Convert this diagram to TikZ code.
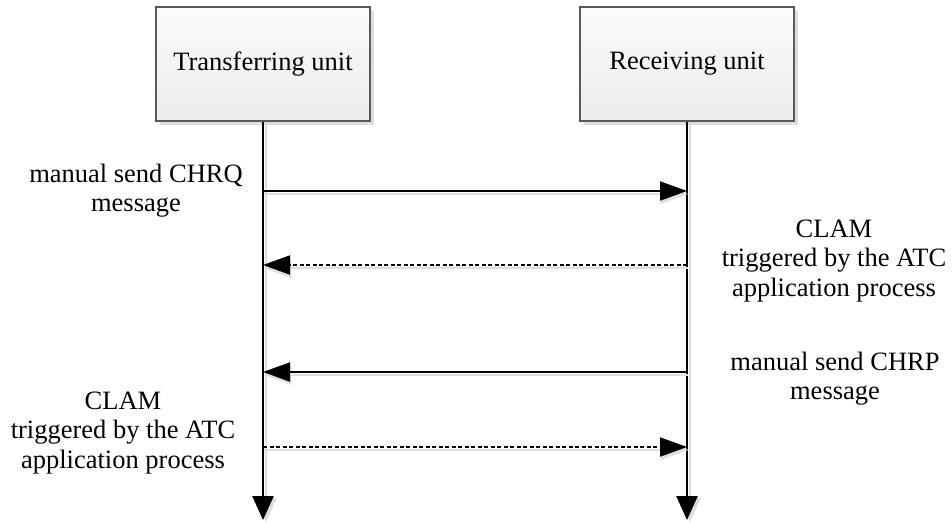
\documentclass[tikz,border=0pt]{standalone}
\usepackage{fontspec}
\setmainfont{Liberation Serif}
\usetikzlibrary{arrows.meta}
\definecolor{boxline}{HTML}{5A5A5A}
\definecolor{boxtop}{HTML}{FBFBFB}
\definecolor{boxbottom}{HTML}{ECECEC}
\definecolor{shade}{HTML}{DEDEDE}
\tikzset{
  txt/.style={font=\fontsize{26.5}{29.5}\selectfont, inner sep=0pt, align=center, anchor=base},
  unitbox/.style={draw=boxline, line width=1.2pt, top color=boxtop, bottom color=boxbottom,
    minimum width=214pt, minimum height=114pt, inner sep=0pt,
    font=\fontsize{26.5}{29.5}\selectfont,
    preaction={fill=shade, transform canvas={shift={(4pt,-4pt)}}}},
  tip/.style={-{Triangle[length=27pt,width=19pt]}},
  lifeline/.style={line width=2.6pt, -{Triangle[length=24pt,width=21pt]},
    preaction={draw=shade, line width=2.6pt, -{Triangle[length=24pt,width=21pt]}, transform canvas={shift={(3pt,-2pt)}}}},
  msg/.style={line width=2pt, tip,
    preaction={draw=shade, line width=2pt, tip, transform canvas={shift={(1pt,-3pt)}}}},
  reply/.style={msg, dash pattern=on 4pt off 2.5pt,
    preaction={draw=shade, line width=2pt, tip, dash pattern=on 4pt off 2.5pt, transform canvas={shift={(1pt,-3pt)}}}},
}
\begin{document}
\begin{tikzpicture}[x=1pt,y=-1pt]
\useasboundingbox (0,0) rectangle (952,522);

% the two communicating units
\node[unitbox] (tu) at (263,64) {Transferring unit};
\node[unitbox] (ru) at (687,64) {Receiving unit};

% lifelines
\coordinate (tend) at (263,520);
\coordinate (rend) at (687,520);
\draw[lifeline] (tu.south) -- (tend);
\draw[lifeline] (ru.south) -- (rend);

% message anchor points on the lifelines
\coordinate (t1) at (263,191); \coordinate (r1) at (687,191);
\coordinate (t2) at (263,265); \coordinate (r2) at (687,265);
\coordinate (t3) at (263,372); \coordinate (r3) at (687,372);
\coordinate (t4) at (263,447); \coordinate (r4) at (687,447);

% messages
\draw[msg] (t1) -- (r1);
\draw[reply] (r2) -- (t2);
\draw[msg] (r3) -- (t3);
\draw[reply] (t4) -- (r4);

% labels (base anchor sits on the last line)
\node[txt] (l1) at (136,211.5) {manual send CHRQ\\message};
\node[txt] (l2) at (834,296) {CLAM\\triggered by the ATC\\application process};
\node[txt] (l3) at (835,399.5) {manual send CHRP\\message};
\node[txt] (l4) at (123,468) {CLAM\\triggered by the ATC\\application process};
\end{tikzpicture}
\end{document}
